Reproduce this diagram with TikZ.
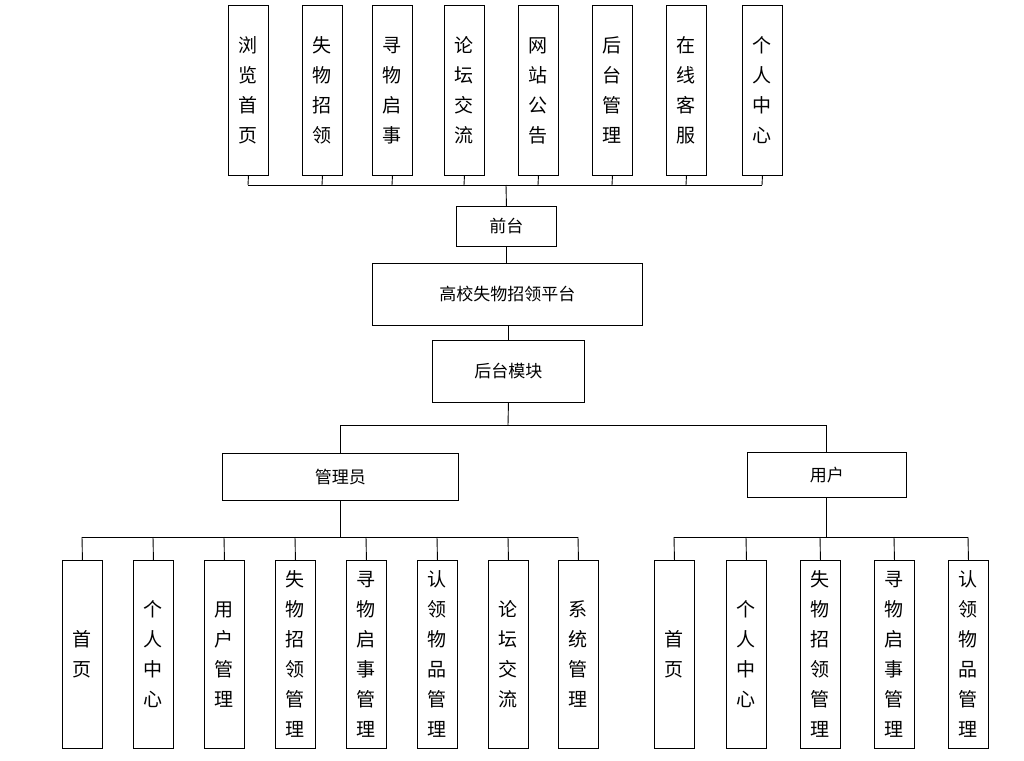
\documentclass[tikz,border=0pt]{standalone}
\usepackage{fontspec}
\setmainfont{Noto Sans CJK SC}
\begin{document}
\begin{tikzpicture}[x=1pt,y=-1pt,
 box/.style={draw,line width=0.9pt,inner sep=0pt,anchor=north west},
 vt/.style={font=\fontsize{19}{30}\selectfont,align=center},
 ht/.style={font=\fontsize{17}{20}\selectfont},
 ln/.style={line width=0.9pt}]
\useasboundingbox (0,0) rectangle (1024,760);
% top
\foreach \n/\x/\t in {t1/248/浏\\览\\首\\页, t2/322/失\\物\\招\\领, t3/392/寻\\物\\启\\事, t4/464/论\\坛\\交\\流, t5/538/网\\站\\公\\告, t6/612/后\\台\\管\\理, t7/686/在\\线\\客\\服, t8/762/个\\人\\中\\心}{
 \node[box,minimum width=40pt,minimum height=170pt] (\n) at (\x-20,5) {};
 \node[vt] at (\n.center) {\t};
 \draw[ln] (\n.south) -- (\x,185);
}
\draw[ln] (248,185) -- (762,185);
\node[box,minimum width=100pt,minimum height=40pt,ht] (qt) at (456,206) {前台};
\node[box,minimum width=270pt,minimum height=62pt,ht] (pt) at (372,263) {高校失物招领平台};
\node[box,minimum width=152pt,minimum height=62pt,ht] (ht) at (432,340) {后台模块};
\draw[ln] (506,185) -- (qt.north);
\draw[ln] (qt.south) -- (pt.north -| qt.south);
\draw[ln] (pt.south -| ht.north) -- (ht.north);
\node[box,minimum width=236pt,minimum height=47pt,ht] (gl) at (222,453) {管理员};
\node[box,minimum width=159pt,minimum height=45pt,ht] (yh) at (747,452) {用户};
\draw[ln] (ht.south) -- (508,425);
\draw[ln] (340,425) -- (826,425);
\draw[ln] (340,425) -- (340,453);
\draw[ln] (826,425) -- (826,452);
\draw[ln] (340,500) -- (340,537);
\draw[ln] (826,497) -- (826,537);
\draw[ln] (82,537) -- (578,537);
\draw[ln] (674,537) -- (968,537);
\foreach \n/\x/\t in {a1/82/首\\页, a2/153/个\\人\\中\\心, a3/224/用\\户\\管\\理, a4/295/失\\物\\招\\领\\管\\理, a5/366/寻\\物\\启\\事\\管\\理, a6/437/认\\领\\物\\品\\管\\理, a7/508/论\\坛\\交\\流, a8/578/系\\统\\管\\理,
 b1/674/首\\页, b2/746/个\\人\\中\\心, b3/820/失\\物\\招\\领\\管\\理, b4/894/寻\\物\\启\\事\\管\\理, b5/968/认\\领\\物\\品\\管\\理}{
 \node[box,minimum width=40pt,minimum height=188pt] (\n) at (\x-20,560) {};
 \node[vt] at (\n.center) {\t};
 \draw[ln] (\x,537) -- (\n.north);
}
\end{tikzpicture}
\end{document}
